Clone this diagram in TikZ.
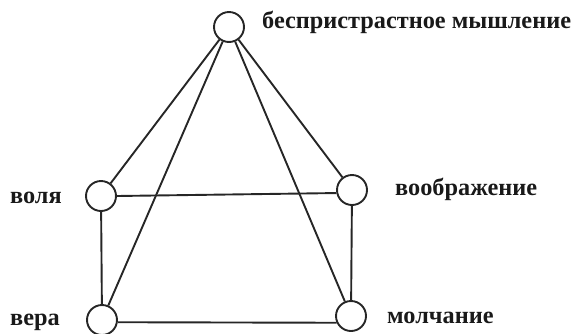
\documentclass[tikz,border=0pt]{standalone}
\usepackage{fontspec}
\setmainfont{Liberation Serif}
\begin{document}
\begin{tikzpicture}[x=1pt,y=-1pt,
  vert/.style={circle,draw=black!85,line width=1.9pt,minimum size=30pt,inner sep=0pt,fill=white},
  lbl/.style={font=\fontsize{24.3}{26}\selectfont\bfseries,text=black!90,inner sep=0pt,anchor=base west},
  edge/.style={draw=black!85,line width=1.9pt}]
\useasboundingbox (0,0) rectangle (572,333);
\node[vert] (top) at (229,27) {};
\node[vert] (vol) at (101,196) {};
\node[vert] (voo) at (352,190) {};
\node[vert] (ver) at (102,320) {};
\node[vert] (mol) at (351,316) {};
\draw[edge] (top) -- (vol);
\draw[edge] (top) -- (voo);
\draw[edge] (top) -- (ver);
\draw[edge] (top) -- (mol);
\draw[edge] (vol.east) -- (voo.191);
\draw[edge] (vol) -- (ver);
\draw[edge] (voo) -- (mol);
\draw[edge] (ver.-8) -- (mol.205);
\node[lbl] (t1) at (262,28) {беспристрастное мышление};
\node[lbl] (t2) at (10,203) {воля};
\node[lbl] (t3) at (395,195) {воображение};
\node[lbl] (t4) at (10,325) {вера};
\node[lbl] (t5) at (387,323) {молчание};
\end{tikzpicture}
\end{document}
